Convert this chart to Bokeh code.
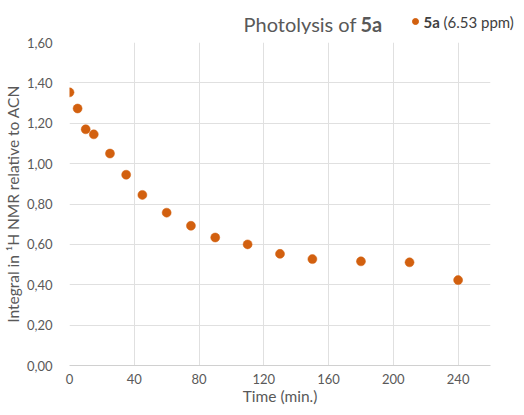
from bokeh.plotting import figure
from bokeh.models import ColumnDataSource, CustomJSTickFormatter, FixedTicker, Range1d
from bokeh.core.properties import value
from bokeh.embed import file_html
from bokeh.resources import INLINE

time_min = [0, 5, 10, 15, 25, 35, 45, 60, 75, 90, 110, 130, 150, 180, 210, 240]
integral = [1.353, 1.273, 1.170, 1.145, 1.050, 0.945, 0.845, 0.757, 0.692, 0.634,
            0.600, 0.553, 0.527, 0.516, 0.511, 0.423]
x_ticks = [0, 40, 80, 120, 160, 200, 240]
y_ticks = [0.0, 0.2, 0.4, 0.6, 0.8, 1.0, 1.2, 1.4, 1.6]
title_parts = ["Photolysis of", "5a"]
legend_parts = ["5a", "(6.53 ppm)"]

FONT = "Lato"
GREY = "#595959"
DARK = "#404040"
ORANGE = "#D2600F"
W = 516
TOP_H = 34

# ---- header (title + legend), a separate root so its frame spans the full width ----
hdr = figure(width=W, height=TOP_H, output_backend="svg", toolbar_location=None,
             x_range=Range1d(0, W), y_range=Range1d(0, TOP_H),
             min_border_left=0, min_border_right=0, min_border_top=0, min_border_bottom=0)
hdr.axis.visible = False
hdr.grid.visible = False
hdr.outline_line_color = None
hdr.text(x=[356], y=[11], text=[title_parts[0]], text_font=value(FONT), text_font_size="20px",
         text_color=GREY, text_align="right", text_baseline="middle")
hdr.text(x=[360], y=[11], text=[title_parts[1]], text_font=value(FONT), text_font_size="20px",
         text_color=GREY, text_font_style=value("bold"), text_baseline="middle")
hdr.scatter(x=[415], y=[13], size=6, fill_color=ORANGE, line_color=ORANGE)
hdr.text(x=[423], y=[12.5], text=[legend_parts[0]], text_font=value(FONT), text_font_size="15px",
         text_color=DARK, text_font_style=value("bold"), text_baseline="middle")
hdr.text(x=[443], y=[12.5], text=[legend_parts[1]], text_font=value(FONT), text_font_size="15px",
         text_color=DARK, text_baseline="middle")

# ---- main chart ----
p = figure(width=W, height=407 - TOP_H, output_backend="svg", toolbar_location=None,
           x_range=Range1d(0, 260), y_range=Range1d(0, 1.6),
           min_border_left=64, min_border_right=26, min_border_top=8, min_border_bottom=38)
p.outline_line_color = None

src = ColumnDataSource(dict(t=time_min, v=integral))
p.scatter("t", "v", source=src, size=9, fill_color=ORANGE, line_color=ORANGE, line_width=0.5)

p.xaxis.ticker = FixedTicker(ticks=x_ticks)
p.yaxis.ticker = FixedTicker(ticks=y_ticks)
p.yaxis.formatter = CustomJSTickFormatter(code="return tick.toFixed(2).replace('.', ',');")

for ax in (p.xaxis[0], p.yaxis[0]):
    ax.major_tick_line_color = None
    ax.minor_tick_line_color = None
    ax.major_label_text_font = FONT
    ax.major_label_text_font_size = "13px"
    ax.major_label_text_color = GREY
    ax.axis_label_text_font = FONT
    ax.axis_label_text_font_size = "15.5px"
    ax.axis_label_text_color = GREY
    ax.axis_label_text_font_style = "normal"
p.yaxis.axis_line_color = None
p.xaxis.axis_line_color = "#d0d0d0"
p.xaxis.major_label_standoff = 2
p.yaxis.major_label_standoff = 11
p.xaxis.axis_label = "Time (min.)"
p.yaxis.axis_label = "Integral in \u00b9H NMR relative to ACN"
p.xaxis.axis_label_standoff = 0
p.yaxis.axis_label_standoff = 2

p.xgrid.grid_line_color = "#e0e0e0"
p.ygrid.grid_line_color = "#e0e0e0"

open("out.html", "w").write(file_html([hdr, p], INLINE))
